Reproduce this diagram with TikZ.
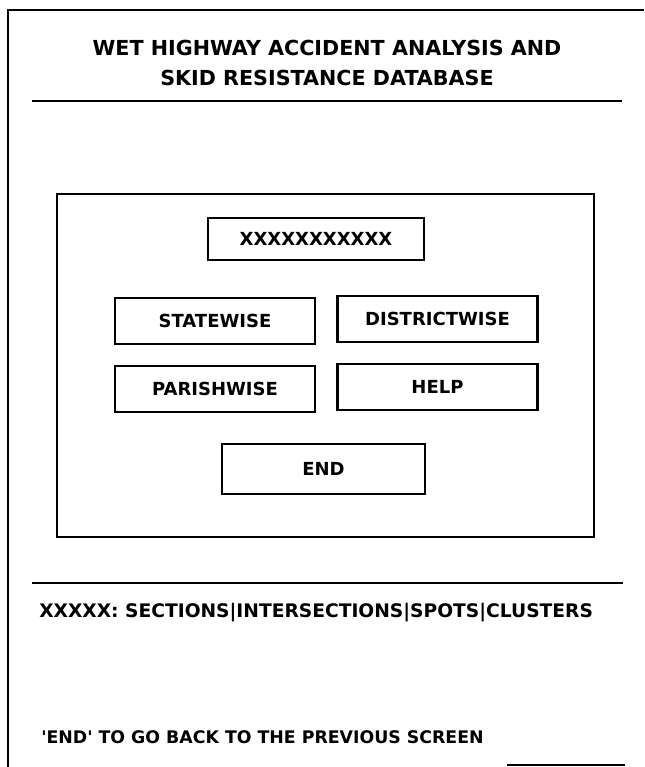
\documentclass[tikz,border=0pt]{standalone}
\usepackage{fontspec}
\setmainfont{DejaVu Sans}
\usepackage{tikz}

\tikzset{
  menubox/.style={draw,line width=1.6pt,minimum width=150pt,minimum height=35pt,inner sep=0pt,font=\bfseries\fontsize{13.5}{15}\selectfont},
  frameline/.style={line width=2pt},
}

\begin{document}
\begin{tikzpicture}[x=0.75pt,y=0.75pt,yscale=-1,xscale=1]
\path[use as bounding box] (0,0) rectangle (644,767);

%Straight Lines: outer frame
\draw [frameline] (8,767) -- (8,10) -- (644,10) ;
\draw [frameline] (507,765) -- (625,765) ;
%Straight Lines: separators
\draw [frameline] (32,101) -- (622,101) ;
\draw [frameline] (32,583) -- (623,583) ;
%Shape: Rectangle (menu panel)
\draw [line width=1.8pt] (57,194) -- (594,194) -- (594,537) -- (57,537) -- cycle ;

% Text Node
\node (title) at (327,63) [align=center,font=\bfseries\fontsize{15.5}{22.5}\selectfont] {WET HIGHWAY ACCIDENT ANALYSIS AND\\SKID RESISTANCE DATABASE};

% Menu buttons
\node (xbox) at (316,239) [menubox,minimum width=162pt,minimum height=31.5pt] {XXXXXXXXXXX};
\node (state) at (215,321) [menubox] {STATEWISE};
\node (district) at (437.5,319) [menubox] {DISTRICTWISE};
\node (parish) at (215,389) [menubox] {PARISHWISE};
\node (help) at (437.5,387) [menubox] {HELP};
\node (end) at (323.5,469) [menubox,minimum width=152pt,minimum height=37pt] {END};

% Text Node
\node (types) at (39,613) [anchor=west,inner sep=0pt,font=\bfseries\fontsize{14}{16}\selectfont] {XXXXX: SECTIONS|INTERSECTIONS|SPOTS|CLUSTERS};
% Text Node
\node (back) at (41,737) [anchor=west,inner sep=0pt,font=\bfseries\fontsize{13}{15}\selectfont] {\textquotesingle END\textquotesingle{} TO GO BACK TO THE PREVIOUS SCREEN};
\end{tikzpicture}
\end{document}
